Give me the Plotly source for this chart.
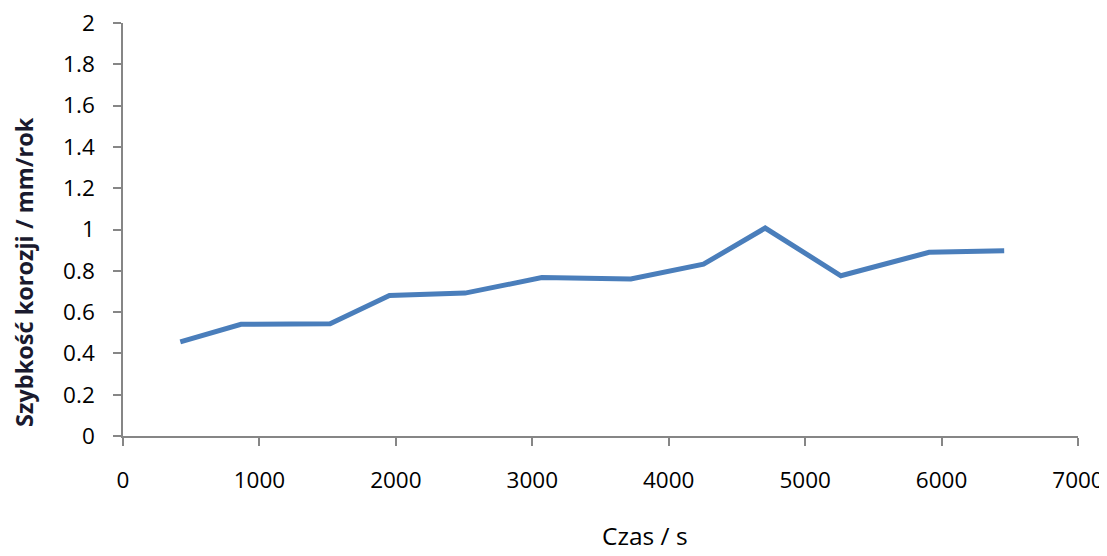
import plotly.graph_objects as go

# Data
czas_s = [420, 865, 1518, 1953, 2507, 3070, 3722, 4255, 4707, 5262, 5909, 6459]
szybkosc = [0.456, 0.541, 0.543, 0.680, 0.692, 0.767, 0.760, 0.832, 1.007, 0.776, 0.890, 0.897]

x_tickvals = [0, 1000, 2000, 3000, 4000, 5000, 6000, 7000]
x_ticktext = ["0", "1000", "2000", "3000", "4000", "5000", "6000", "7000"]
y_tickvals = [0, 0.2, 0.4, 0.6, 0.8, 1, 1.2, 1.4, 1.6, 1.8, 2]
y_ticktext = ["0", "0.2", "0.4", "0.6", "0.8", "1", "1.2", "1.4", "1.6", "1.8", "2"]

x_title = "Czas / s"
y_title = "Szybkość korozji / mm/rok"

# The page body has an 8px default margin, so the figure is drawn 8px
# right/down from the window corner; size and place it accordingly.
OFF = 8
WIN_W, WIN_H = 1107, 556
W, H = WIN_W - OFF, WIN_H - OFF
# plot area in window pixels
L, R, T, B = 123, 1078, 23, 436

fig = go.Figure()
fig.add_trace(go.Scatter(
    x=czas_s, y=szybkosc, mode="lines",
    line=dict(color="#4A7EBB", width=5),
    showlegend=False,
))

font_family = "Open Sans"
axis_color = "#868686"

fig.update_layout(
    width=W, height=H,
    margin=dict(l=L - OFF, r=W - (R - OFF), t=T - OFF, b=H - (B - OFF), pad=0),
    paper_bgcolor="white", plot_bgcolor="white",
    font=dict(family=font_family, color="#000000"),
    xaxis=dict(
        range=[0, 7000], tickvals=x_tickvals, ticktext=x_ticktext,
        showgrid=False, zeroline=False, showline=True, linecolor=axis_color, linewidth=1.5,
        ticks="outside", ticklen=8, tickcolor=axis_color, tickwidth=1.5,
        tickfont=dict(size=22.5, family=font_family, color="#000000"),
        ticklabelstandoff=15, automargin=False, ticklabeloverflow="allow",
    ),
    yaxis=dict(
        range=[0, 2], tickvals=y_tickvals, ticktext=y_ticktext,
        showgrid=False, zeroline=False, showline=True, linecolor=axis_color, linewidth=1.5,
        ticks="outside", ticklen=8, tickcolor=axis_color, tickwidth=1.5,
        tickfont=dict(size=22.5, family=font_family, color="#000000"),
        ticklabelstandoff=14, automargin=False, ticklabeloverflow="allow",
    ),
)

fig.add_annotation(
    text=x_title, xref="paper", yref="paper",
    x=(645 - L) / (R - L), y=(B - 553) / (B - T),
    xanchor="center", yanchor="bottom", showarrow=False,
    borderpad=0,
    font=dict(size=24.5, family=font_family, color="#000000"),
)
fig.add_annotation(
    text="<b>" + y_title + "</b>", xref="paper", yref="paper",
    x=(24 - L) / (R - L), y=(B - 272) / (B - T),
    xanchor="center", yanchor="middle", showarrow=False, textangle=-90,
    borderpad=0,
    font=dict(size=23.5, family=font_family, color="#1a1a2e"),
)

fig.write_html("out.html")
